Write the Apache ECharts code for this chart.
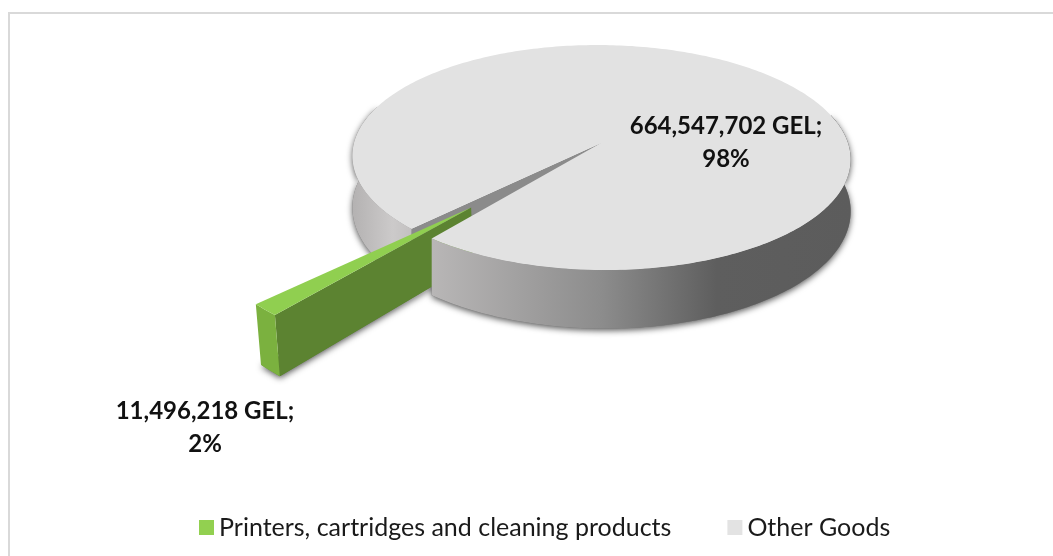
<!DOCTYPE html>
<html>
<head>
<meta charset="utf-8">
<style>html,body{margin:0;padding:0;background:#fff}#main{width:1053px;height:556px}</style>
<script src="https://cdn.jsdelivr.net/npm/echarts@6/dist/echarts.min.js"></script>
</head>
<body>
<div id="main"></div>
<script>
const categories = ['Printers, cartridges and cleaning products', 'Other Goods']
const values = [11496218, 664547702]
const unit = 'GEL'

const total = values.reduce((a, b) => a + b, 0)
const sweep = values[0] / total * 360

// fake 3d pie: a flat disc seen in perspective
const cx = 601, cy = 143
const rx = 247, ry = 110.6
const persp = 0.129 // how much the near edge grows
const depth = 51
const skew = 4 // the picture leans a little to the right towards the viewer
const startAngle = 129 // clockwise from 3 o'clock, where the small slice starts
const explode = 0.73

function pt(angle, opt) {
	opt = opt || {}
	const a = angle * Math.PI / 180
	const r = opt.r === undefined ? 1 : opt.r
	const u = (opt.ox || 0) + r * Math.cos(a)
	const v = (opt.oy || 0) + r * Math.sin(a)
	const s = 1 / (1 - persp * v)
	const lean = opt.skew === undefined ? skew : opt.skew
	let x = cx + (rx * u + lean * v) * s
	let y = cy + ry * v * s
	if (opt.down) {
		y += depth * s
		x = cx + (x - cx) * (opt.shrink || 1)
	}
	return [x, y]
}

function arc(from, to, opt) {
	const out = []
	const n = Math.max(2, Math.ceil(Math.abs(to - from)))
	for (let i = 0; i <= n; i++) out.push(pt(from + (to - from) * i / n, opt))
	return out
}

function band(from, to, opt) {
	const top = arc(from, to, opt)
	const bottom = arc(from, to, Object.assign({}, opt, { down: true })).reverse()
	return top.concat(bottom)
}

function poly(points, style, z2) {
	return { type: 'polygon', shape: { points: points }, style: style, z2: z2, silent: true }
}

function label(i, x, y) {
	const pct = Math.round(values[i] / total * 100)
	return {
		type: 'text',
		x: x,
		y: y,
		z2: 50,
		silent: true,
		style: {
			text: values[i].toLocaleString('en-US') + ' ' + unit + ';\n' + pct + '%',
			fill: '#111',
			fontFamily: 'Lato',
			fontWeight: 'bold',
			fontSize: 24,
			lineHeight: 33,
			align: 'center',
			verticalAlign: 'middle'
		}
	}
}

const rimFill = {
	type: 'linear', global: true, x: 353, y: 0, x2: 851, y2: 0,
	colorStops: [
		{ offset: 0, color: '#b4b2b2' },
		{ offset: 0.08, color: '#cccaca' },
		{ offset: 0.16, color: '#b8b6b6' },
		{ offset: 0.5, color: '#8c8c8c' },
		{ offset: 0.73, color: '#5e5e5e' },
		{ offset: 1, color: '#5c5c5c' }
	]
}
const shadow = { shadowBlur: 6, shadowColor: 'rgba(0,0,0,0.65)', shadowOffsetY: 2 }

function renderOther() {
	const from = startAngle + sweep
	const to = startAngle + 360
	const shadowStyle = Object.assign({ fill: '#777' }, shadow)
	return {
		type: 'group',
		children: [
			poly(band(-15, 129, {}), shadowStyle, 1),
			poly(band(from, 200, {}), shadowStyle, 1),
			poly(band(from, 200, {}), { fill: rimFill }, 2),
			// cut wall seen through the gap
			poly([pt(from, { r: 0 }), pt(from), pt(from, { down: true }), pt(from, { r: 0, down: true })], { fill: '#8b8b8b' }, 3),
			poly(band(-15, startAngle, {}), { fill: rimFill }, 20),
			poly([pt(0, { r: 0 })].concat(arc(from, to)), { fill: '#e2e2e2' }, 21),
			label(1, 726, 143)
		]
	}
}

function renderSlice() {
	const a1 = startAngle
	const a2 = startAngle + sweep
	const mid = (a1 + a2) / 2 * Math.PI / 180
	const o = { ox: explode * Math.cos(mid), oy: explode * Math.sin(mid), shrink: 0.985, skew: 0, r: 0.97 }
	const apex = Object.assign({}, o, { r: 0 })
	const apexDown = Object.assign({}, o, { r: 0, down: true })
	const edge = Object.assign({}, o, { down: true })
	return {
		type: 'group',
		children: [
			poly([pt(a1, edge), pt(a2, edge), pt(0, apexDown)], Object.assign({ fill: '#5c8331' }, shadow), 4),
			poly([pt(0, apex), pt(a1, o), pt(a1, edge), pt(0, apexDown)], { fill: '#5c8331' }, 5),
			poly(band(a1, a2, o), { fill: '#7bb13f' }, 6),
			poly([pt(0, apex)].concat(arc(a1, a2, o)), { fill: '#90cf50' }, 7),
			label(0, 205, 428)
		]
	}
}

const option = {
	animation: false,
	backgroundColor: '#fff',
	graphic: [{
		type: 'rect',
		silent: true,
		shape: { x: 9, y: 13, width: 1100, height: 600 },
		style: { fill: 'none', stroke: '#d9d9d9', lineWidth: 2 }
	}],
	legend: {
		left: 194,
		top: 510,
		icon: 'rect',
		itemWidth: 15,
		itemHeight: 15,
		itemGap: 56,
		data: categories,
		textStyle: { fontFamily: 'Lato', fontSize: 25, color: '#1a1a1a' }
	},
	series: [
		{
			name: categories[0],
			type: 'custom',
			coordinateSystem: 'none',
			itemStyle: { color: '#92d050' },
			renderItem: renderSlice,
			data: [values[0]]
		},
		{
			name: categories[1],
			type: 'custom',
			coordinateSystem: 'none',
			itemStyle: { color: '#e3e3e3' },
			renderItem: renderOther,
			data: [values[1]]
		}
	]
}

const myChart = echarts.init(document.getElementById('main'), null, { renderer: 'canvas' })
myChart.setOption(option)
</script>
</body>
</html>
